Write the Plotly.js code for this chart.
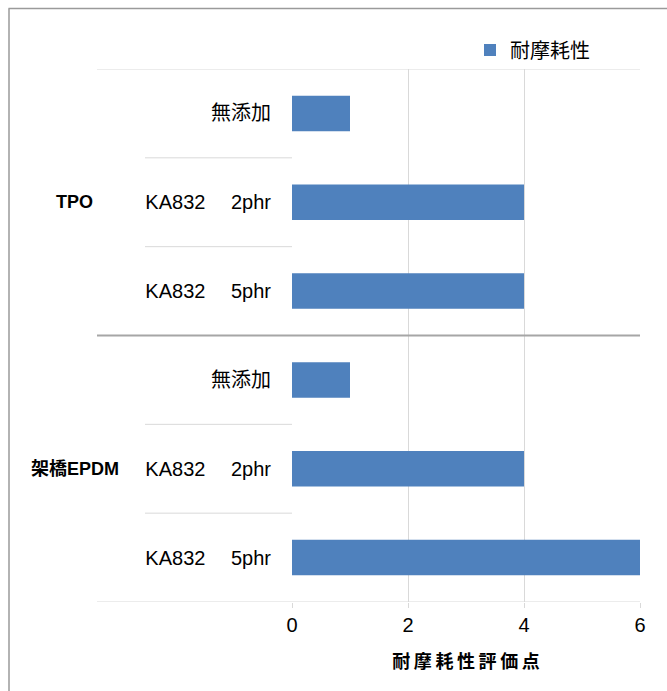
<!DOCTYPE html>
<html>
<head>
<meta charset="utf-8">
<script src="https://cdn.plot.ly/plotly-3.0.1.min.js"></script>
<style>html,body{margin:0;padding:0;background:#fff;}#chart{width:667px;height:691px;}</style>
</head>
<body>
<div id="chart"></div>
<script>
// ---- data ----
const groups = ["TPO", "架橋EPDM"];
const itemLabels = ["無添加", "KA832\u3000 2phr", "KA832\u3000 5phr", "無添加", "KA832\u3000 2phr", "KA832\u3000 5phr"];
const itemGroup = ["TPO", "TPO", "TPO", "架橋EPDM", "架橋EPDM", "架橋EPDM"];
const categories = ["TPO-無添加", "TPO-2phr", "TPO-5phr", "EPDM-無添加", "EPDM-2phr", "EPDM-5phr"];
const values = [1, 4, 4, 1, 4, 6];
const seriesName = "耐摩耗性";
const xTitle = "耐摩耗性評価点";
const xTicks = [0, 2, 4, 6];

// ---- layout helpers (pixel -> paper) ----
const W = 667, H = 691, L = 292, R = 27, T = 69, B = 89;
const pw = W - L - R, ph = H - T - B;
const px = v => (v - L) / pw;
const py = v => (H - B - v) / ph;

const light = "#d9d9d9";
const shapes = [];
const lineX0 = px(97), shortX0 = px(145);
function hline(y, x0, x1, color, width) {
  shapes.push({type: "line", xref: "paper", yref: "y", x0: x0, x1: x1, y0: y, y1: y,
    line: {color: color, width: width}});
}
hline(-0.5, lineX0, 1, light, 1);
hline(categories.length - 0.5, lineX0, 1, light, 1);
for (let i = 1; i < categories.length; i++) {
  if (itemGroup[i] !== itemGroup[i - 1]) hline(i - 0.5, lineX0, 1, "#a6a6a6", 2);
  else hline(i - 0.5, shortX0, 0, light, 1);
}
// outer frame (top and left)
shapes.push({type: "line", xref: "paper", yref: "paper", x0: px(8.5), x1: px(700), y0: py(8.5), y1: py(8.5), line: {color: "#9a9a9a", width: 1.5}});
shapes.push({type: "line", xref: "paper", yref: "paper", x0: px(9), x1: px(9), y0: py(8.5), y1: py(700), line: {color: "#9a9a9a", width: 1.5}});

// group labels
const annotations = groups.map(g => {
  const idx = itemGroup.map((v, i) => v === g ? i : -1).filter(i => i >= 0);
  const mid = idx[Math.floor(idx.length / 2)];
  return {xref: "paper", yref: "y", x: px(75), y: categories[mid], text: "<b>" + g + "</b>",
    showarrow: false, xanchor: "center", yanchor: "middle",
    font: {family: "Liberation Sans, Noto Sans CJK JP, sans-serif", size: 18, color: "#000"}};
});

const trace = {
  type: "bar", orientation: "h", name: seriesName,
  x: values, y: categories, width: 0.4,
  marker: {color: "#4f81bd"},
  showlegend: true, hoverinfo: "x"
};

const font = "Liberation Sans, Noto Sans CJK JP, sans-serif";
const layout = {
  width: W, height: H,
  margin: {l: L, r: R, t: T, b: B, pad: 0},
  paper_bgcolor: "#fff", plot_bgcolor: "#fff",
  font: {family: font, size: 20, color: "#000"},
  showlegend: true,
  legend: {orientation: "h", x: px(470), y: py(50), xanchor: "left", yanchor: "middle",
    font: {family: font, size: 20, color: "#000"}, bgcolor: "rgba(0,0,0,0)", itemwidth: 30},
  xaxis: {
    range: [0, 6], tickvals: xTicks, ticktext: xTicks.map(String),
    showgrid: true, gridcolor: light, gridwidth: 1,
    zeroline: false, showline: false,
    ticks: "outside", ticklen: 5, tickcolor: light,
    tickfont: {family: font, size: 20, color: "#000"},
    title: {text: "<b>" + xTitle.split("").join("\u2009") + "</b>", standoff: 20,
      font: {family: font, size: 18, color: "#000"}},
    fixedrange: true
  },
  yaxis: {
    type: "category", categoryorder: "array", categoryarray: categories,
    tickvals: categories, ticktext: itemLabels,
    range: [categories.length - 0.5, -0.5],
    showgrid: false, zeroline: false, showline: false,
    ticks: "", ticklabelstandoff: 20,
    tickfont: {family: font, size: 20, color: "#000"},
    fixedrange: true
  },
  shapes: shapes,
  annotations: annotations
};

Plotly.newPlot("chart", [trace], layout, {displayModeBar: false, staticPlot: true});
</script>
</body>
</html>
